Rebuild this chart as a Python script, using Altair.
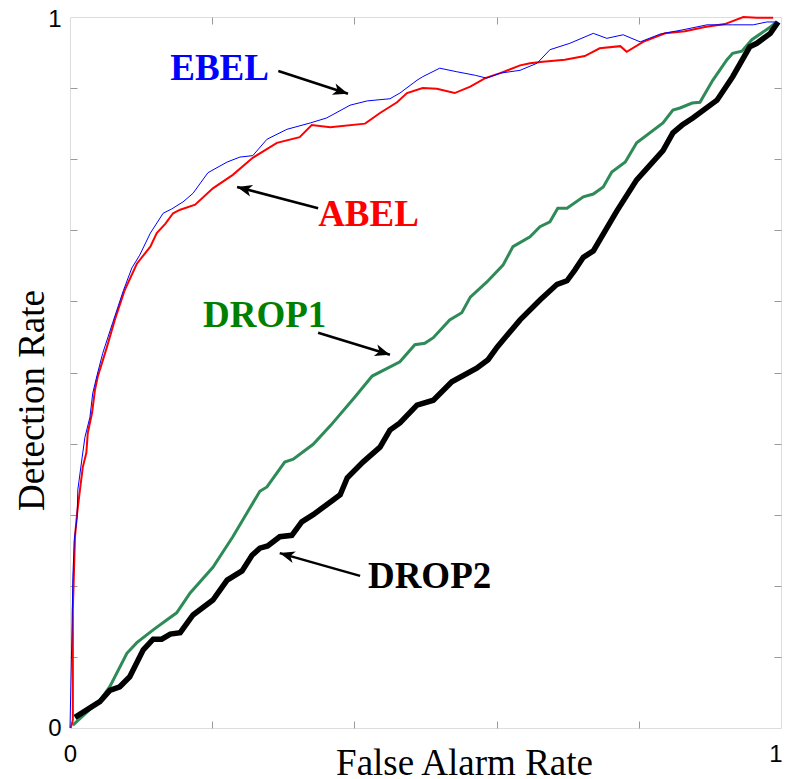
import math
import altair as alt
import pandas as pd

# ---- ROC curves (False Alarm Rate, Detection Rate) ----
ebel_far = [0.000, 0.003, 0.004, 0.006, 0.010, 0.011, 0.017, 0.021, 0.028, 0.032, 0.038, 0.046,
            0.060, 0.075, 0.087, 0.098, 0.113, 0.131, 0.143, 0.159, 0.173, 0.194, 0.221, 0.239,
            0.257, 0.277, 0.305, 0.338, 0.361, 0.394, 0.418, 0.450, 0.464, 0.488, 0.496, 0.520,
            0.544, 0.570, 0.586, 0.605, 0.633, 0.657, 0.675, 0.703, 0.736, 0.755, 0.778, 0.802,
            0.830, 0.862, 0.896, 0.932, 0.961, 0.980, 0.994]
ebel_det = [0.000, 0.148, 0.212, 0.264, 0.297, 0.335, 0.380, 0.409, 0.437, 0.471, 0.496, 0.527,
            0.570, 0.615, 0.647, 0.665, 0.696, 0.724, 0.730, 0.740, 0.752, 0.781, 0.796, 0.803,
            0.805, 0.828, 0.842, 0.851, 0.858, 0.876, 0.882, 0.885, 0.893, 0.911, 0.916, 0.928,
            0.923, 0.918, 0.914, 0.921, 0.925, 0.935, 0.954, 0.963, 0.977, 0.970, 0.975, 0.965,
            0.976, 0.982, 0.989, 0.989, 0.989, 0.993, 0.993]

abel_far = [0.001, 0.004, 0.004, 0.007, 0.010, 0.014, 0.018, 0.023, 0.025, 0.031, 0.035, 0.039,
            0.052, 0.063, 0.077, 0.094, 0.113, 0.122, 0.134, 0.145, 0.155, 0.176, 0.201, 0.229,
            0.257, 0.291, 0.323, 0.340, 0.366, 0.415, 0.436, 0.460, 0.474, 0.496, 0.516, 0.541,
            0.563, 0.584, 0.605, 0.633, 0.647, 0.665, 0.696, 0.724, 0.745, 0.774, 0.783, 0.806,
            0.837, 0.865, 0.893, 0.921, 0.947, 0.966, 0.989]
abel_det = [0.000, 0.011, 0.166, 0.269, 0.302, 0.335, 0.367, 0.387, 0.415, 0.443, 0.475, 0.494,
            0.536, 0.574, 0.616, 0.653, 0.677, 0.696, 0.709, 0.724, 0.729, 0.736, 0.759, 0.778,
            0.802, 0.823, 0.831, 0.848, 0.845, 0.850, 0.865, 0.880, 0.893, 0.900, 0.899, 0.893,
            0.902, 0.914, 0.921, 0.932, 0.935, 0.937, 0.940, 0.945, 0.956, 0.959, 0.951, 0.965,
            0.977, 0.980, 0.986, 0.990, 1.000, 0.999, 0.999]

drop1_far = [0.004, 0.042, 0.056, 0.080, 0.094, 0.117, 0.136, 0.150, 0.169, 0.201, 0.229, 0.267,
             0.277, 0.302, 0.314, 0.342, 0.367, 0.401, 0.425, 0.464, 0.485, 0.499, 0.511, 0.534,
             0.551, 0.563, 0.586, 0.609, 0.623, 0.647, 0.661, 0.675, 0.686, 0.699, 0.722, 0.736,
             0.750, 0.762, 0.781, 0.797, 0.834, 0.848, 0.858, 0.875, 0.886, 0.904, 0.924, 0.932,
             0.945, 0.959, 0.985, 0.994]
drop1_det = [0.004, 0.039, 0.058, 0.105, 0.120, 0.138, 0.152, 0.162, 0.190, 0.226, 0.269, 0.333,
             0.339, 0.374, 0.378, 0.399, 0.426, 0.466, 0.495, 0.515, 0.539, 0.541, 0.549, 0.574,
             0.584, 0.606, 0.627, 0.651, 0.677, 0.691, 0.705, 0.712, 0.731, 0.731, 0.747, 0.751,
             0.761, 0.782, 0.796, 0.823, 0.851, 0.869, 0.872, 0.879, 0.880, 0.911, 0.940, 0.949,
             0.952, 0.968, 0.986, 0.993]

drop2_far = [0.007, 0.042, 0.056, 0.070, 0.084, 0.103, 0.117, 0.129, 0.141, 0.155, 0.173, 0.201,
             0.221, 0.242, 0.256, 0.267, 0.278, 0.295, 0.312, 0.326, 0.342, 0.361, 0.380, 0.390,
             0.412, 0.436, 0.450, 0.464, 0.488, 0.511, 0.537, 0.572, 0.588, 0.601, 0.633, 0.661,
             0.685, 0.699, 0.710, 0.722, 0.736, 0.769, 0.797, 0.834, 0.848, 0.861, 0.876, 0.910,
             0.932, 0.956, 0.966, 0.985, 0.996]
drop2_det = [0.015, 0.037, 0.053, 0.058, 0.072, 0.110, 0.125, 0.125, 0.132, 0.134, 0.159, 0.180,
             0.208, 0.221, 0.243, 0.253, 0.256, 0.269, 0.271, 0.290, 0.300, 0.314, 0.328, 0.352,
             0.374, 0.395, 0.419, 0.429, 0.454, 0.461, 0.487, 0.506, 0.518, 0.536, 0.574, 0.602,
             0.624, 0.629, 0.644, 0.662, 0.671, 0.727, 0.771, 0.812, 0.837, 0.848, 0.858, 0.883,
             0.916, 0.958, 0.963, 0.977, 0.993]

# ---- annotations ----
label_text = ["EBEL", "ABEL", "DROP1", "DROP2"]
label_far = [0.141, 0.349, 0.187, 0.419]
label_det = [0.911, 0.706, 0.564, 0.197]
label_color = ["#0000ff", "#ff0000", "#008000", "#000000"]

arrow_far0 = [0.293, 0.349, 0.349, 0.408]
arrow_det0 = [0.924, 0.731, 0.556, 0.214]
arrow_far1 = [0.391, 0.235, 0.450, 0.295]
arrow_det1 = [0.892, 0.761, 0.525, 0.246]

x_ticks = [0.2, 0.4, 0.6, 0.8]
y_ticks = [0.1, 0.2, 0.3, 0.4, 0.5, 0.6, 0.7, 0.8, 0.9]

W = 711
H = 711
GREY = "#9a9a9a"

xs = alt.Scale(domain=[0, 1], nice=False, zero=False)
ys = alt.Scale(domain=[0, 1], nice=False, zero=False)

tick_axis = dict(labels=False, domain=False, grid=False, ticks=True, tickSize=7,
                 tickColor=GREY, tickWidth=1, title=None)

def line_layer(far, det, color, width, xaxis, yaxis):
    df = pd.DataFrame({"far": far, "det": det, "i": range(len(far))})
    return alt.Chart(df).mark_line(color=color, strokeWidth=width, clip=False).encode(
        x=alt.X("far:Q", scale=xs, axis=xaxis),
        y=alt.Y("det:Q", scale=ys, axis=yaxis),
        order="i:Q",
    )

main_x = alt.Axis(values=[0, 1], format="d", ticks=False, domain=False, grid=False,
                  labelFont="Liberation Sans", labelFontSize=24, labelColor="#000",
                  labelFlush=False, labelPadding=14, labelBaseline="top",
                  labelAlign=alt.condition("datum.value == 1", alt.value("right"), alt.value("center")),
                  labelOffset=alt.condition("datum.value == 1", alt.value(1), alt.value(0)),
                  title="False Alarm Rate", titleFont="Liberation Serif", titleFontSize=37,
                  titleFontWeight="normal", titleColor="#000", titleX=394, titleY=46,
                  titleAlign="center", titleBaseline="alphabetic")
main_y = alt.Axis(values=[0, 1], format="d", ticks=False, domain=False, grid=False,
                  labelFont="Liberation Sans", labelFontSize=24, labelColor="#000",
                  labelFlush=False, labelPadding=9, labelBaseline="middle",
                  labelOffset=alt.condition("datum.value == 1", alt.value(2), alt.value(0)),
                  title="Detection Rate", titleFont="Liberation Serif", titleFontSize=37,
                  titleFontWeight="normal", titleColor="#000", titleX=-27, titleY=383,
                  titleAlign="center", titleBaseline="alphabetic")

l_drop1 = line_layer(drop1_far, drop1_det, "#2e8b57", 3, main_x, main_y)
l_drop2 = line_layer(drop2_far, drop2_det, "#000000", 5.5,
                     alt.Axis(orient="top", offset=-H, values=x_ticks, **tick_axis),
                     alt.Axis(orient="right", offset=-W, values=y_ticks, **tick_axis))
l_abel = line_layer(abel_far, abel_det, "#ff0000", 2,
                    alt.Axis(orient="bottom", offset=-H, values=x_ticks, **tick_axis),
                    alt.Axis(orient="left", offset=-W, values=y_ticks, **tick_axis))
l_ebel = line_layer(ebel_far, ebel_det, "#0000ff", 1, None, None)

angles = []
for a, b, c, d in zip(arrow_far0, arrow_det0, arrow_far1, arrow_det1):
    ang = math.degrees(math.atan2(c - a, d - b)) % 360
    angles.append(ang)

arrows = pd.DataFrame({"x0": arrow_far0, "y0": arrow_det0, "x1": arrow_far1,
                       "y1": arrow_det1, "ang": angles})

rules = alt.Chart(arrows).mark_rule(color="black", strokeWidth=2.5).encode(
    x=alt.X("x0:Q", scale=xs, axis=None),
    y=alt.Y("y0:Q", scale=ys, axis=None),
    x2="x1:Q", y2="y1:Q",
)
heads = alt.Chart(arrows).mark_point(
    shape="M0,0L0.6,1.5L0,1.1L-0.6,1.5Z", size=400, filled=True, color="black",
    opacity=1, strokeWidth=0,
).encode(
    x=alt.X("x1:Q", scale=xs, axis=None),
    y=alt.Y("y1:Q", scale=ys, axis=None),
    angle=alt.Angle("ang:Q", scale=None),
)

labels = pd.DataFrame({"t": label_text, "x": label_far, "y": label_det, "c": label_color})
texts = alt.Chart(labels).mark_text(
    font="Liberation Serif", fontSize=37, fontWeight="bold", align="left",
    baseline="alphabetic",
).encode(
    x=alt.X("x:Q", scale=xs, axis=None),
    y=alt.Y("y:Q", scale=ys, axis=None),
    text="t:N",
    color=alt.Color("c:N", scale=None),
)

chart = alt.layer(l_drop1, l_drop2, l_abel, l_ebel, rules, heads, texts).resolve_axis(
    x="independent", y="independent"
).properties(
    width=W, height=H,
    autosize=alt.AutoSizeParams(type="none"),
    padding={"left": 62, "top": 9, "right": 1, "bottom": 50},
).configure_view(
    stroke=GREY, strokeWidth=2, fill="white"
).configure(background="white")

chart.save("out.html", embed_options={"renderer": "svg", "actions": False})
